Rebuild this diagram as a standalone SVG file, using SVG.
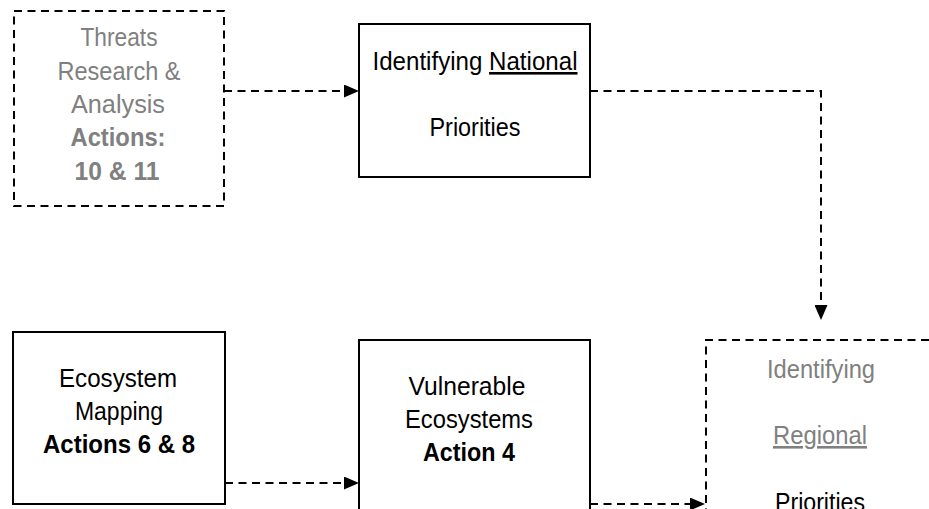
<svg xmlns="http://www.w3.org/2000/svg" width="929" height="509" viewBox="0 0 929 509">
  <style>
    .box { fill: #ffffff; stroke: #000000; stroke-width: 2; }
    .dash { fill: none; stroke: #000000; stroke-width: 2; stroke-dasharray: 8 5.5; }
    .t { font-family: "Liberation Sans Narrow", "Liberation Sans", Arial, sans-serif; font-size: 26px; text-anchor: middle; fill: #000000; }
    .grey { fill: #808080; }
    .b { font-weight: bold; }
    .u { text-decoration: underline; }
  </style>
  <defs>
    <marker id="arrow" markerUnits="userSpaceOnUse" markerWidth="15" markerHeight="13" refX="6" refY="6.5" orient="auto">
      <path d="M0,0 L15,6.5 L0,13 z" fill="#000000"/>
    </marker>
  </defs>

  <rect width="929" height="509" fill="#ffffff"/>

  <!-- connectors -->
  <g id="connectors">
    <path class="dash" d="M224,91 H350" marker-end="url(#arrow)"/>
    <path class="dash" d="M590,91 H821 V311" marker-end="url(#arrow)"/>
    <path class="dash" d="M225,483 H350" marker-end="url(#arrow)"/>
    <path class="dash" d="M590,504 H696" marker-end="url(#arrow)"/>
  </g>

  <g id="threats">
    <rect class="dash" x="14" y="11" width="210" height="195"/>
    <text class="t grey" x="119" y="46" textLength="77" lengthAdjust="spacingAndGlyphs">Threats</text>
    <text class="t grey" x="119" y="80" textLength="123" lengthAdjust="spacingAndGlyphs">Research &amp;</text>
    <text class="t grey" x="118" y="113" textLength="94" lengthAdjust="spacingAndGlyphs">Analysis</text>
    <text class="t grey b" x="118" y="146" textLength="95" lengthAdjust="spacingAndGlyphs">Actions:</text>
    <text class="t grey b" x="117" y="180" textLength="85" lengthAdjust="spacingAndGlyphs">10 &amp; 11</text>
  </g>

  <g id="national">
    <rect class="box" x="359" y="24" width="231" height="153"/>
    <text class="t" x="475" y="70" textLength="205" lengthAdjust="spacingAndGlyphs">Identifying <tspan class="u">National</tspan></text>
    <text class="t" x="475" y="136" textLength="91" lengthAdjust="spacingAndGlyphs">Priorities</text>
  </g>

  <g id="ecosystem-mapping">
    <rect class="box" x="13" y="332" width="212" height="172"/>
    <text class="t" x="118" y="387" textLength="118" lengthAdjust="spacingAndGlyphs">Ecosystem</text>
    <text class="t" x="119" y="420" textLength="88" lengthAdjust="spacingAndGlyphs">Mapping</text>
    <text class="t b" x="119" y="453" textLength="152" lengthAdjust="spacingAndGlyphs">Actions 6 &amp; 8</text>
  </g>

  <g id="vulnerable">
    <rect class="box" x="359" y="340" width="231" height="190"/>
    <text class="t" x="467" y="395" textLength="117" lengthAdjust="spacingAndGlyphs">Vulnerable</text>
    <text class="t" x="469" y="428" textLength="128" lengthAdjust="spacingAndGlyphs">Ecosystems</text>
    <text class="t b" x="469" y="461" textLength="92" lengthAdjust="spacingAndGlyphs">Action 4</text>
  </g>

  <g id="regional">
    <path class="dash" d="M706,530 V340 H940"/>
    <text class="t grey" x="821" y="378" textLength="108" lengthAdjust="spacingAndGlyphs">Identifying</text>
    <text class="t grey" x="820" y="444" textLength="94" lengthAdjust="spacingAndGlyphs"><tspan class="u">Regional</tspan></text>
    <text class="t" x="820" y="511" textLength="90" lengthAdjust="spacingAndGlyphs">Priorities</text>
  </g>
</svg>
